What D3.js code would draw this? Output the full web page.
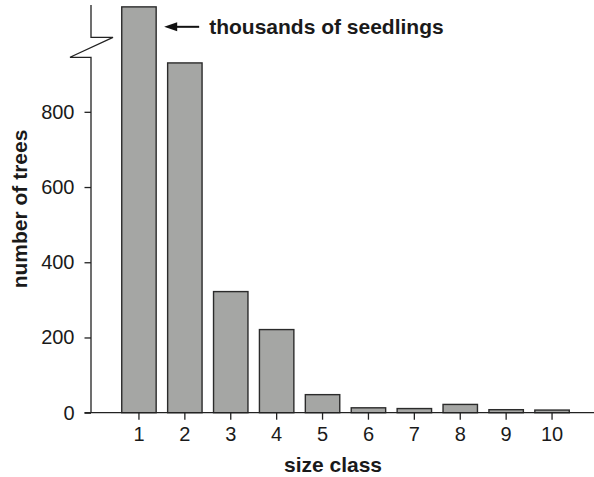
<!DOCTYPE html>
<html>
<head>
<meta charset="utf-8">
<script src="https://cdn.jsdelivr.net/npm/d3@7"></script>
<style>
  html, body { margin: 0; padding: 0; background: #fff; }
  svg { display: block; font-family: "Liberation Sans", Arial, Helvetica, sans-serif; }
</style>
</head>
<body>
<svg id="chart" width="594" height="477"></svg>
<script>
// Size classes and tree counts; class 1 (seedlings, in thousands) runs past the axis break
const sizeClasses = [1, 2, 3, 4, 5, 6, 7, 8, 9, 10];
const treeCounts = [1079, 930, 322, 221, 48, 13, 11, 22, 8, 7];
const yTicks = [0, 200, 400, 600, 800];
const seedlingNote = "thousands of seedlings";

const svg = d3.select("#chart");

const x = d3.scaleBand()
  .domain(sizeClasses)
  .range([116, 575])
  .paddingInner(0.25)
  .paddingOuter(0.125);

const y = d3.scaleLinear()
  .domain([0, 1084])
  .range([412.7, 5]);

const axisX = 91;
const breakLow = 945, breakHigh = 998;

// bars
svg.append("g")
  .selectAll("rect")
  .data(sizeClasses)
  .join("rect")
  .attr("x", d => x(d))
  .attr("y", (d, i) => y(treeCounts[i]))
  .attr("width", x.bandwidth())
  .attr("height", (d, i) => y(0) - y(treeCounts[i]))
  .attr("fill", "#a5a6a4")
  .attr("stroke", "#2b2b2b")
  .attr("stroke-width", 1.4);

// y axis ticks and labels
const gy = svg.append("g")
  .attr("transform", `translate(${axisX},0)`)
  .call(d3.axisLeft(y).tickValues(yTicks).tickSize(6.5).tickPadding(10));
gy.select(".domain").remove();
gy.selectAll(".tick line").attr("stroke", "#222").attr("stroke-width", 1.3);
gy.selectAll(".tick text")
  .attr("font-size", 20)
  .attr("fill", "#1a1a1a")
  .style("font-family", "Liberation Sans, Arial, sans-serif");

// y axis line with a break below the top
const yPath = d3.path();
yPath.moveTo(axisX, y(0));
yPath.lineTo(axisX, y(breakLow));
yPath.lineTo(axisX - 21, y(breakLow));
yPath.lineTo(axisX + 22, y(breakHigh));
yPath.lineTo(axisX, y(breakHigh));
yPath.lineTo(axisX, y.range()[1]);
svg.append("path")
  .attr("d", yPath.toString())
  .attr("fill", "none")
  .attr("stroke", "#222")
  .attr("stroke-width", 1.3);

// x axis
const gx = svg.append("g")
  .attr("transform", `translate(0,${y(0)})`)
  .call(d3.axisBottom(x).tickSize(7).tickSizeOuter(0).tickPadding(7));
gx.select(".domain").remove();
gx.selectAll(".tick line").attr("stroke", "#222").attr("stroke-width", 1.3);
gx.selectAll(".tick text")
  .attr("font-size", 20)
  .attr("fill", "#1a1a1a")
  .style("font-family", "Liberation Sans, Arial, sans-serif");

svg.append("line")
  .attr("x1", axisX - 6.5).attr("x2", 594)
  .attr("y1", y(0)).attr("y2", y(0))
  .attr("stroke", "#222")
  .attr("stroke-width", 1.3);

// axis titles
svg.append("text")
  .attr("transform", "translate(27,209) rotate(-90)")
  .attr("text-anchor", "middle")
  .attr("font-size", 21)
  .attr("font-weight", "bold")
  .attr("fill", "#1a1a1a")
  .text("number of trees");

svg.append("text")
  .attr("x", 333)
  .attr("y", 472)
  .attr("text-anchor", "middle")
  .attr("font-size", 21)
  .attr("font-weight", "bold")
  .attr("fill", "#1a1a1a")
  .text("size class");

// annotation arrow pointing at the seedling bar
const arrowY = y(1026);
const arrowStart = x(1) + x.bandwidth() + 8;
svg.append("line")
  .attr("x1", arrowStart + 8).attr("x2", arrowStart + 35)
  .attr("y1", arrowY).attr("y2", arrowY)
  .attr("stroke", "#111").attr("stroke-width", 2);
svg.append("path")
  .attr("d", `M${arrowStart},${arrowY} L${arrowStart + 13},${arrowY - 4.5} L${arrowStart + 13},${arrowY + 4.5} Z`)
  .attr("fill", "#111");

svg.append("text")
  .attr("x", arrowStart + 45)
  .attr("y", arrowY + 7)
  .attr("font-size", 21)
  .attr("font-weight", "bold")
  .attr("fill", "#1a1a1a")
  .text(seedlingNote);
</script>
</body>
</html>
